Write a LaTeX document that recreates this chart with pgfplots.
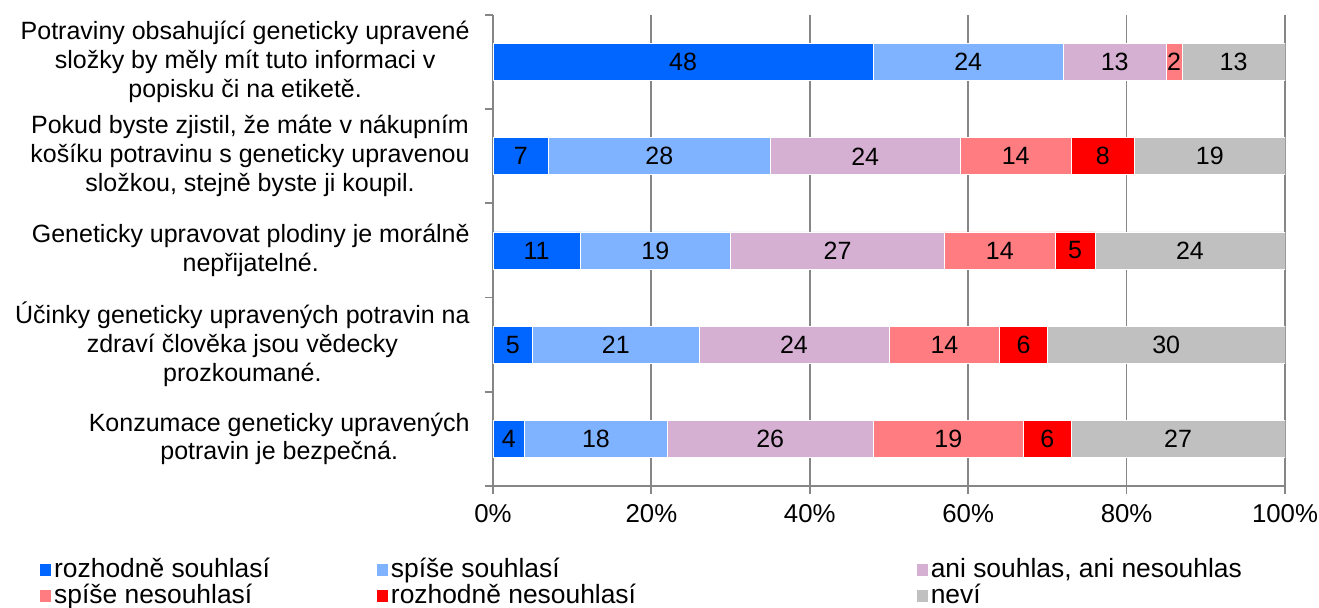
\documentclass[border=0pt]{standalone}
\usepackage{pgfplots}
\pgfplotsset{compat=1.18}
\usepackage{fontspec}
\setmainfont{Liberation Sans}
\definecolor{c1}{HTML}{0066FF}
\definecolor{c2}{HTML}{80B3FF}
\definecolor{c3}{HTML}{D5B0D3}
\definecolor{c4}{HTML}{FF7C80}
\definecolor{c5}{HTML}{FF0000}
\definecolor{c6}{HTML}{C0C0C0}
\definecolor{gridgray}{HTML}{868686}
\pgfplotsset{
  mybar/.style={fill=#1, draw=white, line width=0.4pt,
    legend image code/.code={\fill[#1] (0pt,-2.75pt) rectangle (5pt,2.75pt);}},
}
\begin{document}
\begin{tikzpicture}
\path[use as bounding box] (0,0) rectangle (659.5pt,304pt);
\begin{axis}[
  at={(246.5pt,61pt)}, anchor=south west,
  width=396pt, height=235.5pt, scale only axis,
  xbar stacked,
  xmin=0, xmax=100,
  ymin=-0.5, ymax=4.5,
  bar width=18.5pt,
  xtick={0,20,...,100},
  xticklabel={\pgfmathprintnumber{\tick}\%},
  /pgf/number format/assume math mode=true,
  xmajorgrids,
  grid style={gridgray, line width=0.9pt},
  axis x line*=bottom, axis y line*=left,
  axis line style={gridgray, line width=0.9pt},
  tick align=outside,
  major tick length=4pt,
  xtick style={gridgray, line width=0.9pt},
  ytick={0,...,4},
  ytick style={draw=none},
  yticklabels={{Konzumace geneticky upravených\\potravin je bezpečná.},
    {Účinky geneticky upravených potravin na\\zdraví člověka jsou vědecky\\prozkoumané.},
    {Geneticky upravovat plodiny je morálně\\nepřijatelné.},
    {Pokud byste zjistil, že máte v nákupním\\košíku potravinu s geneticky upravenou\\složkou, stejně byste ji koupil.},
    {Potraviny obsahující geneticky upravené\\složky by měly mít tuto informaci v\\popisku či na etiketě.}},
  yticklabel style={font=\fontsize{12.5}{14.5}\selectfont, align=center, inner xsep=0pt, xshift=-7.5pt},
  xticklabel style={font=\fontsize{12.9}{15}\selectfont, inner ysep=0pt, yshift=-5pt},
  extra y ticks={-0.5,0.5,1.5,2.5,3.5,4.5},
  extra y tick labels={},
  extra y tick style={ytick style={draw=gridgray, line width=0.9pt}},
  point meta=explicit symbolic,
  nodes near coords,
  every node near coord/.append style={anchor=center, text=black,
    font=\fontsize{12.5}{15}\selectfont},
  legend columns=3,
  legend cell align=left,
  legend style={at={(-0.572,-0.1507)}, anchor=north west, draw=none,
    font=\fontsize{13.2}{15}\selectfont,
    inner sep=0pt, row sep=0pt, column sep=0pt,
    nodes={text height=9.5pt, text depth=2.5pt, inner ysep=0.5pt, inner xsep=1.5pt}},
]
\addplot[mybar=c1] coordinates {(4,0)[4] (5,1)[5] (11,2)[11] (7,3)[7] (48,4)[48]};
\addlegendentry{\makebox[160pt][l]{rozhodně souhlasí}}
\addplot[mybar=c2] coordinates {(18,0)[18] (21,1)[21] (19,2)[19] (28,3)[28] (24,4)[24]};
\addlegendentry{\makebox[261.5pt][l]{spíše souhlasí}}
\addplot[mybar=c3] coordinates {(26,0)[26] (24,1)[24] (27,2)[27] (24,3)[24] (13,4)[13]};
\addlegendentry{ani souhlas, ani nesouhlas}
\addplot[mybar=c4] coordinates {(19,0)[19] (14,1)[14] (14,2)[14] (14,3)[14] (2,4)[2]};
\addlegendentry{\makebox[160pt][l]{spíše nesouhlasí}}
\addplot[mybar=c5] coordinates {(6,0)[6] (6,1)[6] (5,2)[5] (8,3)[8] (0,4)[]};
\addlegendentry{\makebox[261.5pt][l]{rozhodně nesouhlasí}}
\addplot[mybar=c6] coordinates {(27,0)[27] (30,1)[30] (24,2)[24] (19,3)[19] (13,4)[13]};
\addlegendentry{neví}
\end{axis}
\end{tikzpicture}
\end{document}
